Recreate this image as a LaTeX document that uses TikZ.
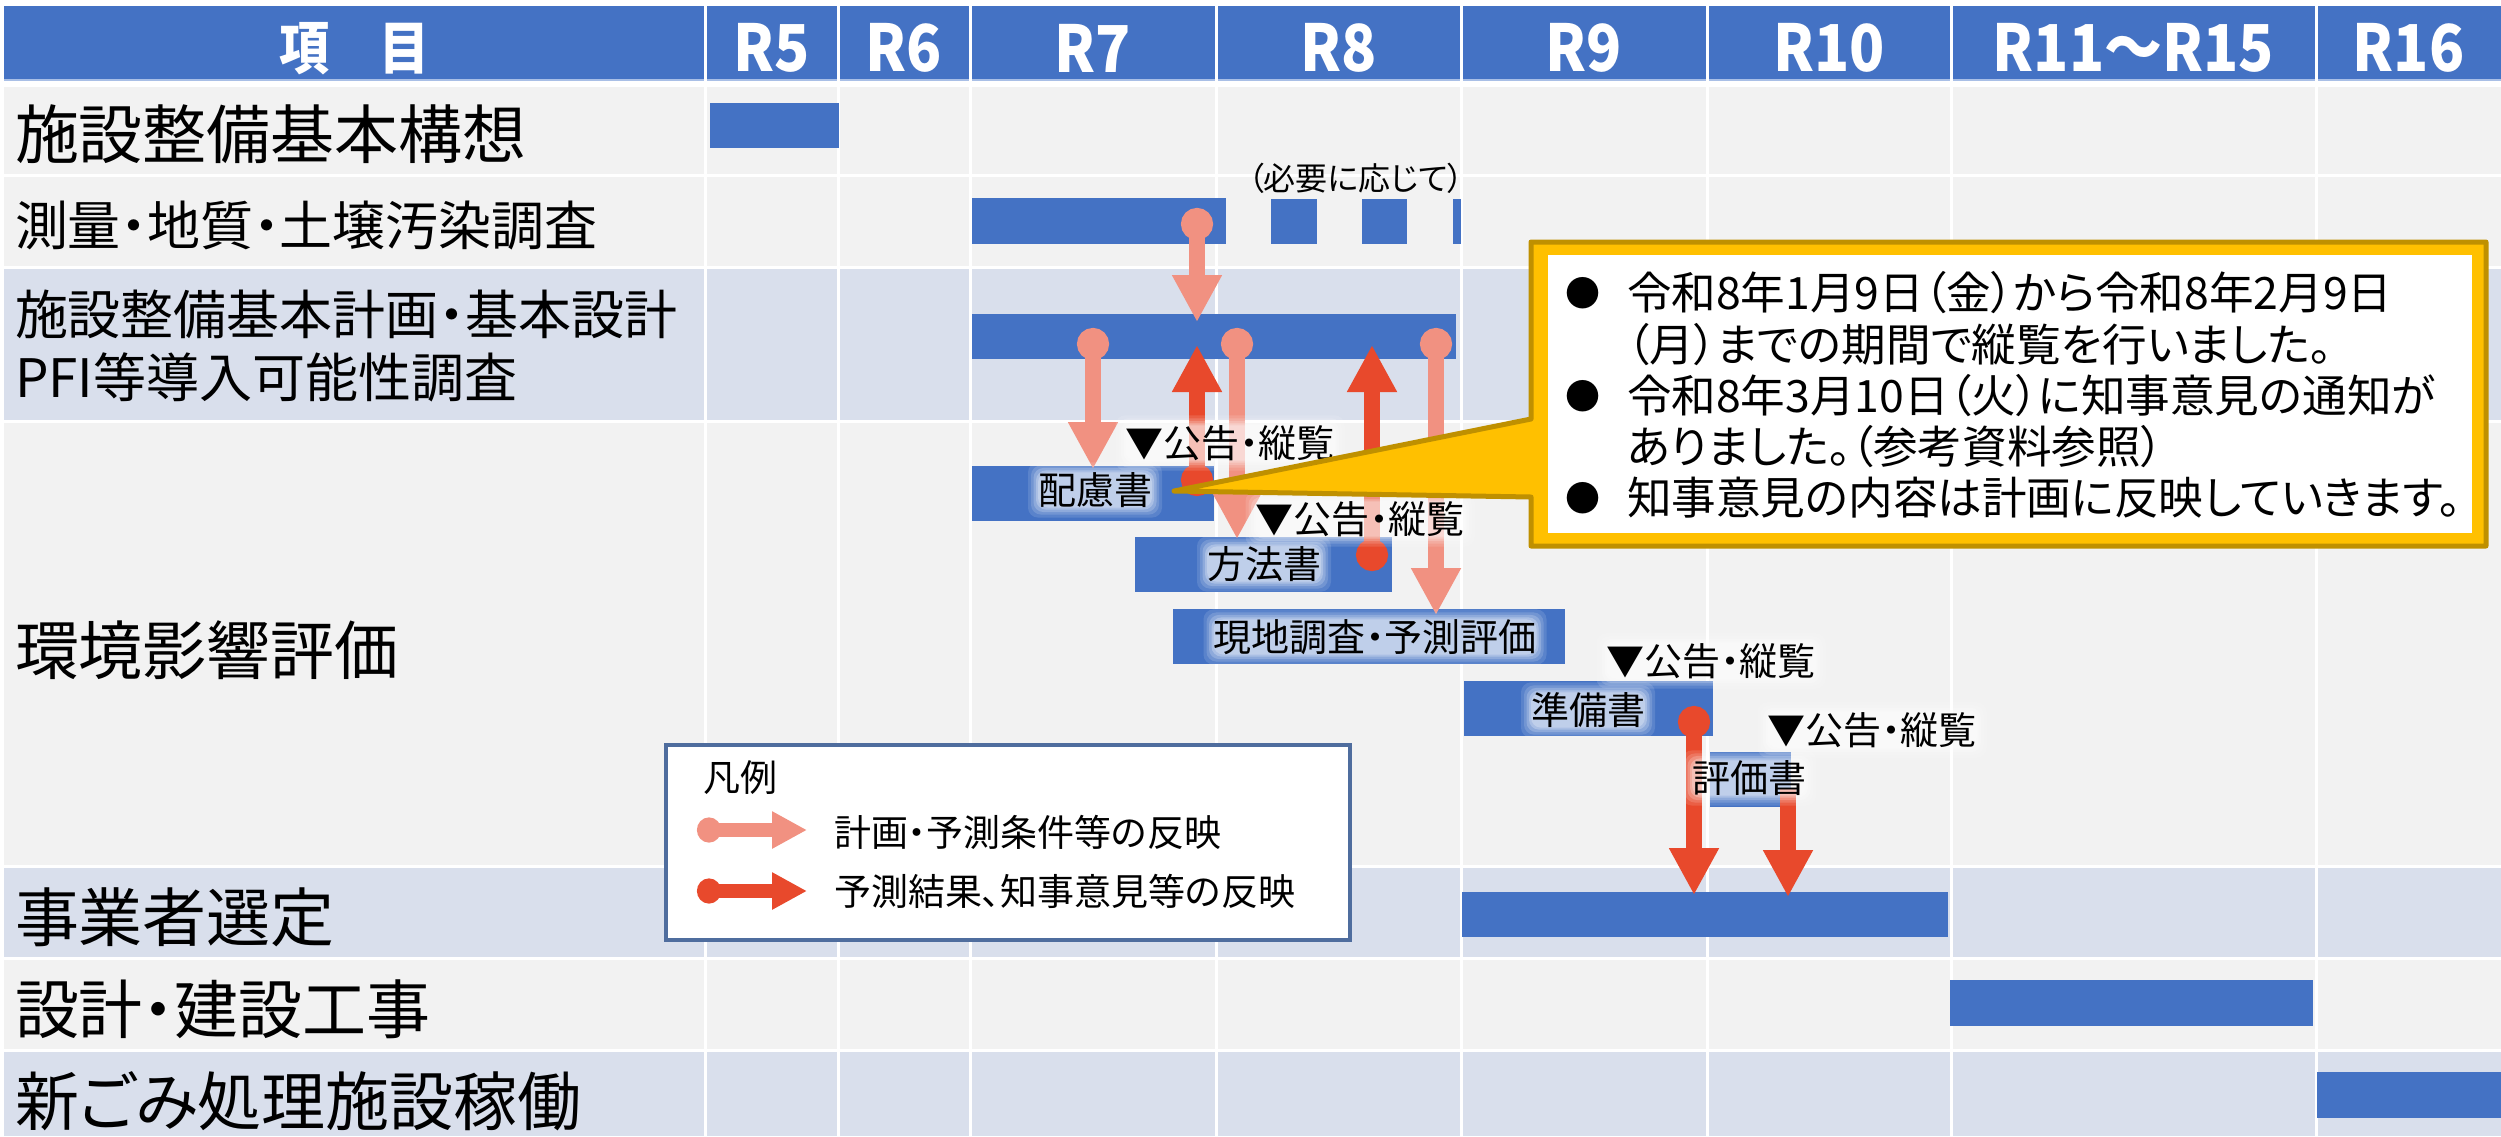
\documentclass[tikz,border=0pt]{standalone}
\usepackage{graphicx}
\usepackage{fontspec}
\setmainfont{Noto Sans CJK JP}[RawFeature={+palt}]
\usetikzlibrary{arrows.meta}
\definecolor{hdr}{HTML}{4472C4}
\definecolor{barc}{HTML}{4472C4}
\definecolor{rowg}{HTML}{F2F2F2}
\definecolor{rowb}{HTML}{D9DFEC}
\definecolor{salm}{HTML}{F19181}
\definecolor{redd}{HTML}{E8492C}
\definecolor{callfill}{HTML}{FFC000}
\definecolor{calledge}{HTML}{BF9000}
\definecolor{legedge}{HTML}{4F6D9E}
\definecolor{hdrline}{HTML}{A9BFE6}
\newcommand\jfs[1]{\fontsize{#1pt}{\dimexpr #1pt*6/5\relax}\selectfont}
\pgfdeclarelayer{glowl}
\pgfdeclarelayer{fg}
\pgfsetlayers{main,glowl,fg}
\tikzset{
  rowlab/.style={anchor=west, font=\jfs{32}},
  rowlabs/.style={anchor=west, font=\jfs{26.5}, align=left},
  hdrtxt/.style={text=white, font=\bfseries\jfs{30.5}},
  barlab/.style={font=\jfs{19}},
  calltxt/.style={anchor=west, font=\jfs{22.3}},
  bul/.style={font=\jfs{17.5}},
  legtxt/.style={anchor=west, font=\jfs{18.5}},
  lightarrow/.style={draw=salm, line width=8pt, arrows={Circle[length=16pt,width=16pt]-Triangle[length=23.5pt,width=23.5pt]}},
  darkarrow/.style={draw=redd, line width=8pt, arrows={Circle[length=16pt,width=16pt]-Triangle[length=23.5pt,width=23.5pt]}},
  darkarrownodot/.style={draw=redd, line width=8pt, arrows={-Triangle[length=23.5pt,width=23.5pt]}},
  leglight/.style={draw=salm, line width=7pt, arrows={Circle[length=12pt,width=12.5pt]-Triangle[length=17.5pt,width=17.5pt]}},
  legdark/.style={draw=redd, line width=7pt, arrows={Circle[length=12pt,width=12.5pt]-Triangle[length=17.5pt,width=17.5pt]}},
}
\begin{document}
\begin{tikzpicture}[x=0.5pt,y=-0.5pt,inner sep=0pt,outer sep=0pt]
\useasboundingbox (0,0) rectangle (2501,1136);
\fill[white] (0,0) rectangle (2501,1136);
% header and rows
\fill[hdr] (4,6) rectangle (2501,79);
\fill[hdrline] (4,79) rectangle (2501,81);
\fill[rowg] (4,87) rectangle (2501,174);
\fill[rowg] (4,177) rectangle (2501,266);
\fill[rowb] (4,269) rectangle (2501,420);
\fill[rowg] (4,423) rectangle (2501,865);
\fill[rowb] (4,868) rectangle (2501,957);
\fill[rowg] (4,960) rectangle (2501,1049);
\fill[rowb] (4,1052) rectangle (2501,1136);
\foreach \x in {705,838,970,1216,1461,1707,1951,2316}
  \fill[white] (\x-1.5,6) rectangle (\x+1.5,1136);
% header texts
\node[text=white, font=\bfseries\jfs{25}] (h0) at (354,49) {\scalebox{1}[1.15]{項　目}};
\node[hdrtxt] (h5) at (771.5,48) {\scalebox{0.95}[1.06]{R5}};
\node[hdrtxt] (h6) at (904,48) {\scalebox{0.95}[1.06]{R6}};
\node[hdrtxt] (h7) at (1093,48) {\scalebox{0.95}[1.06]{R7}};
\node[hdrtxt] (h8) at (1338.5,48) {\scalebox{0.95}[1.06]{R8}};
\node[hdrtxt] (h9) at (1584,48) {\scalebox{0.95}[1.06]{R9}};
\node[hdrtxt] (h10) at (1829,48) {\scalebox{0.95}[1.06]{R10}};
\node[hdrtxt] (h11) at (2133.5,48) {\scalebox{0.95}[1.06]{R11～R15}};
\node[hdrtxt] (h16) at (2408.5,48) {\scalebox{0.95}[1.06]{R16}};
% row labels
\node[rowlab] (r1) at (15,134) {施設整備基本構想};
\node[rowlabs] (r2) at (15,225) {測量・地質・土壌汚染調査};
\node[rowlabs] (r3) at (15,346) {施設整備基本計画・基本設計\\PFI等導入可能性調査};
\node[rowlab] (r4) at (15,650) {環境影響評価};
\node[rowlab] (r5) at (15,917) {事業者選定};
\node[rowlab] (r6) at (15,1009) {設計・建設工事};
\node[rowlab] (r7) at (15,1101) {新ごみ処理施設稼働};
% bars
\fill[barc] (710,103) rectangle (839,148);
\fill[barc] (972,198) rectangle (1226,244);
\fill[barc] (1271,199) rectangle (1317,244);
\fill[barc] (1362,199) rectangle (1407,244);
\fill[barc] (1453,199) rectangle (1461,244);
\fill[barc] (972,314) rectangle (1456,359);
\fill[barc] (972,466) rectangle (1214,521);
\fill[barc] (1135,537) rectangle (1392,592);
\fill[barc] (1173,609) rectangle (1565,664);
\fill[barc] (1464,681) rectangle (1713,736);
\fill[barc] (1710,752) rectangle (1791,807);
\fill[barc] (1462,892) rectangle (1948,937);
\fill[barc] (1950,980) rectangle (2313,1026);
\fill[barc] (2317,1072) rectangle (2501,1118);
\node[font=\jfs{16}] (note) at (1356,178) {（必要に応じて）};
% arrow end points
\coordinate (a1s) at (1197,208); \coordinate (a1e) at (1197,322);
\coordinate (a2s) at (1093,328); \coordinate (a2e) at (1093,469);
\coordinate (a3s) at (1197,496); \coordinate (a3e) at (1197,345);
\coordinate (a4s) at (1237,328); \coordinate (a4e) at (1237,539);
\coordinate (a5s) at (1372,571); \coordinate (a5e) at (1372,345);
\coordinate (a6s) at (1436,328); \coordinate (a6e) at (1436,615);
\coordinate (a7s) at (1694,706); \coordinate (a7e) at (1694,895);
\coordinate (a8s) at (1788,788); \coordinate (a8e) at (1788,897);
\draw[lightarrow] (a1s) -- (a1e);
\draw[lightarrow] (a2s) -- (a2e);
\draw[darkarrow] (a3s) -- (a3e);
\draw[lightarrow] (a4s) -- (a4e);
\draw[darkarrow] (a5s) -- (a5e);
\draw[lightarrow] (a6s) -- (a6e);
\draw[darkarrow] (a7s) -- (a7e);
\draw[darkarrownodot] (a8s) -- (a8e);
% bar labels
\begin{pgfonlayer}{fg}
\node[barlab] (lh) at (1095,490) {配慮書};
\node[barlab] (lm) at (1264,564) {方法書};
\node[barlab] (lg) at (1375,637) {現地調査・予測評価};
\node[barlab] (lj) at (1588,710) {準備書};
\node[barlab] (le) at (1749,778) {評価書};
\node[barlab] (k1) at (1230,443) {▼公告・縦覧};
\node[barlab] (k2) at (1360,519) {▼公告・縦覧};
\node[barlab] (k3) at (1711,661) {▼公告・縦覧};
\node[barlab] (k4) at (1872,730) {▼公告・縦覧};
\end{pgfonlayer}
\begin{pgfonlayer}{glowl}
\foreach \n in {lh,lm,lg,lj,le,k1,k2,k3,k4}{
  \foreach \e/\o in {10/0.12,7/0.15,4.5/0.2,2/0.25,0/0.25}{
    \fill[white,opacity=\o,rounded corners=5pt] ([shift={(-\e,-\e)}]\n.north west) rectangle ([shift={(\e,\e)}]\n.south east);
  }
}
\end{pgfonlayer}
% callout
\begin{pgfonlayer}{fg}
\filldraw[fill=callfill, draw=calledge, line width=2.5pt, line join=round]
  (1531,242) -- (2486,242) -- (2486,546) -- (1531,546) -- (1531,497) -- (1174,491) -- (1531,419) -- cycle;
\fill[white] (1548,255) rectangle (2472,533);
\node[bul] (cb1) at (1583,293) {●};
\node[bul] (cb2) at (1583,396) {●};
\node[bul] (cb3) at (1583,498) {●};
\node[calltxt] (c1) at (1627,293) {令和8年1月9日（金）から令和8年2月9日};
\node[calltxt] (c2) at (1627,345) {（月）までの期間で縦覧を行いました。};
\node[calltxt] (c3) at (1627,396) {令和8年3月10日（火）に知事意見の通知が};
\node[calltxt] (c4) at (1627,447) {ありました。（参考資料参照）};
\node[calltxt] (c5) at (1627,498) {知事意見の内容は計画に反映していきます。};
% legend
\node[draw=legedge, fill=white, line width=1.75pt, minimum width=342pt, minimum height=97.5pt, anchor=north west] (legend) at (666,745) {};
\node[legtxt] (lt0) at (703,778) {凡例};
\coordinate (l1s) at (697,830); \coordinate (l1e) at (807,830);
\coordinate (l2s) at (697,891); \coordinate (l2e) at (807,891);
\draw[leglight] (l1s) -- (l1e);
\draw[legdark] (l2s) -- (l2e);
\node[legtxt] (lt1) at (834,832) {計画・予測条件等の反映};
\node[legtxt] (lt2) at (834,891) {予測結果、知事意見等の反映};
\end{pgfonlayer}
\end{tikzpicture}
\end{document}
